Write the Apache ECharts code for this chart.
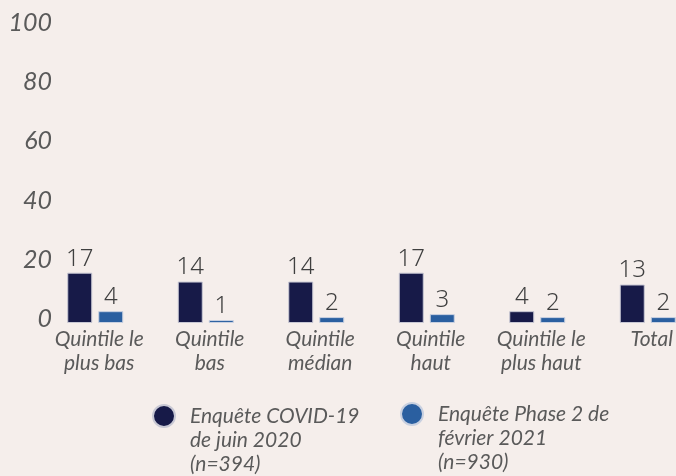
<!DOCTYPE html>
<html>
<head>
<meta charset="utf-8">
<script src="https://cdn.jsdelivr.net/npm/echarts@6/dist/echarts.min.js"></script>
<style>
  html, body { margin: 0; padding: 0; background: #f5eeeb; }
  #chart { width: 676px; height: 476px; }
</style>
</head>
<body>
<div id="chart"></div>
<script>
  var categories = ['Quintile le\nplus bas', 'Quintile\nbas', 'Quintile\nmédian', 'Quintile\nhaut', 'Quintile le\nplus haut', 'Total']
  var juin2020 = [17, 14, 14, 17, 4, 13]
  var fevrier2021 = [4, 1, 2, 3, 2, 2]
  var seriesNames = ['Enquête COVID-19\nde juin 2020\n(n=394)', 'Enquête Phase 2 de\nfévrier 2021\n(n=930)']
  var yTicks = [0, 20, 40, 60, 80, 100]

  var chart = echarts.init(document.getElementById('chart'))

  var legendText = {
    fontFamily: 'Lato',
    fontStyle: 'italic',
    fontSize: 21,
    lineHeight: 24,
    color: '#5a5a5a',
    padding: [0, 0, 0, 10]
  }

  chart.setOption({
    backgroundColor: '#f5eeeb',
    animation: false,
    grid: {
      left: 40,
      top: 27,
      width: 663,
      height: 296,
      // the last group runs past the right edge, like the original
      outerBoundsMode: 'none'
    },
    legend: [
      {
        left: 152,
        top: 356,
        padding: 0,
        icon: 'circle',
        itemWidth: 22,
        itemHeight: 22,
        textStyle: legendText,
        // two blank lines on top so the dot sits on the first line
        formatter: function (name) { return '\n\n' + name },
        data: [seriesNames[0]]
      },
      {
        left: 400,
        top: 354,
        padding: 0,
        icon: 'circle',
        itemWidth: 22,
        itemHeight: 22,
        textStyle: legendText,
        formatter: function (name) { return '\n\n' + name },
        data: [seriesNames[1]]
      }
    ],
    xAxis: {
      type: 'category',
      data: categories,
      axisLine: {show: false},
      axisTick: {show: false},
      axisLabel: {
        interval: 0,
        margin: 4,
        fontFamily: 'Lato',
        fontStyle: 'italic',
        fontSize: 21,
        lineHeight: 24,
        color: '#5a5a5a',
        padding: [0, 0, 0, 8]
      }
    },
    yAxis: {
      type: 'value',
      min: yTicks[0],
      max: yTicks[yTicks.length - 1],
      interval: 20,
      offset: -12,
      splitLine: {show: false},
      axisLine: {show: false},
      axisTick: {show: false},
      axisLabel: {
        margin: 0,
        fontFamily: 'Lato',
        fontStyle: 'italic',
        fontSize: 25,
        color: '#5a5a5a',
        verticalAlign: 'bottom',
        lineHeight: 8
      }
    },
    series: [
      {
        name: seriesNames[0],
        type: 'bar',
        data: juin2020,
        barWidth: 25,
        barGap: '24%',
        itemStyle: {color: '#171a48', borderColor: '#c8c8d4', borderWidth: 1},
        label: {
          show: true,
          position: 'top',
          distance: 2,
          fontFamily: 'Noto Sans',
          fontWeight: 300,
          fontSize: 24,
          color: '#3f3f3f'
        }
      },
      {
        name: seriesNames[1],
        type: 'bar',
        data: fevrier2021,
        barWidth: 25,
        itemStyle: {color: '#2a5fa0', borderColor: '#c8d0e0', borderWidth: 1},
        label: {
          show: true,
          position: 'top',
          distance: 2,
          fontFamily: 'Noto Sans',
          fontWeight: 300,
          fontSize: 24,
          color: '#3f3f3f'
        }
      }
    ]
  })
</script>
</body>
</html>
